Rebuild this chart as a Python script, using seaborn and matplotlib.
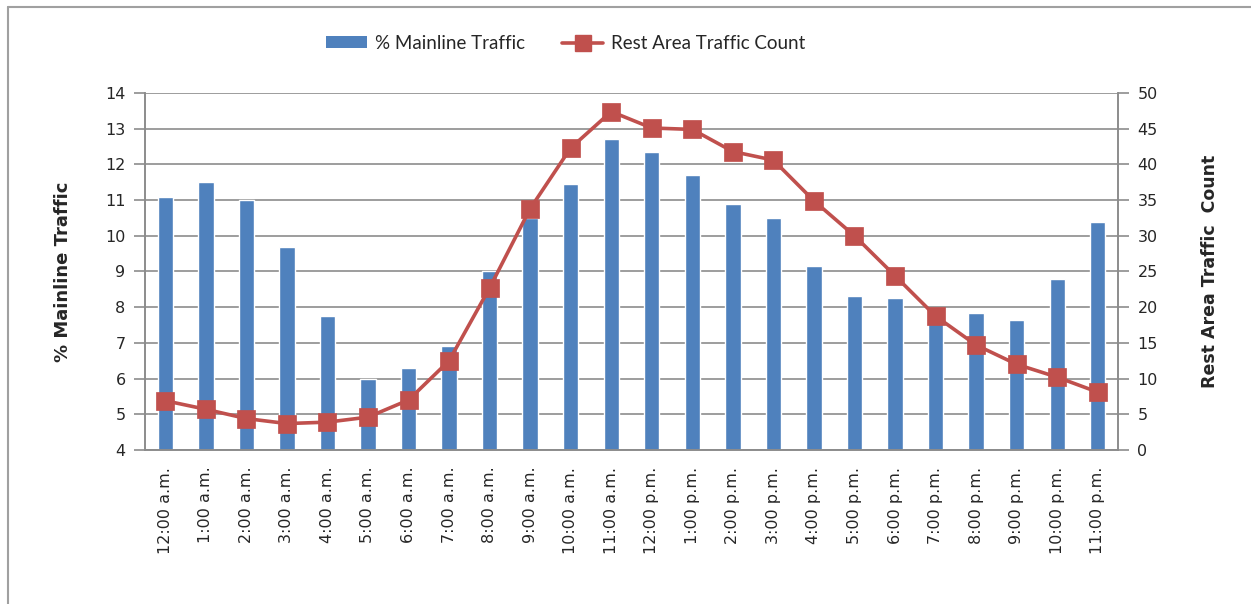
import numpy as np
import pandas as pd
import matplotlib
matplotlib.use("Agg")
import matplotlib.pyplot as plt
import seaborn as sns
from matplotlib.lines import Line2D
from matplotlib.patches import Patch

# --- data ---
hours = ["12:00 a.m.", "1:00 a.m.", "2:00 a.m.", "3:00 a.m.", "4:00 a.m.", "5:00 a.m.",
         "6:00 a.m.", "7:00 a.m.", "8:00 a.m.", "9:00 a.m.", "10:00 a.m.", "11:00 a.m.",
         "12:00 p.m.", "1:00 p.m.", "2:00 p.m.", "3:00 p.m.", "4:00 p.m.", "5:00 p.m.",
         "6:00 p.m.", "7:00 p.m.", "8:00 p.m.", "9:00 p.m.", "10:00 p.m.", "11:00 p.m."]
mainline_pct = [11.1, 11.5, 11.0, 9.7, 7.75, 6.0, 6.3, 6.9, 9.0, 10.5, 11.45, 12.7,
                12.35, 11.7, 10.9, 10.5, 9.15, 8.3, 8.25, 7.6, 7.85, 7.65, 8.8, 10.4]
rest_count = [6.9, 5.7, 4.4, 3.7, 3.9, 4.6, 7.0, 12.5, 22.7, 33.8, 42.3, 47.4,
              45.1, 44.9, 41.8, 40.6, 34.9, 30.0, 24.4, 18.75, 14.7, 12.0, 10.2, 8.1]

df = pd.DataFrame({"hour": hours, "pct": mainline_pct, "count": rest_count})

blue = "#4F81BD"
red = "#C0504D"
gray = "#8C8C8C"

sns.set_style("white")
plt.rcParams['font.family'] = ['DejaVu Sans']

fig = plt.figure(figsize=(12.51, 6.04), dpi=100)
ax = fig.add_axes([0.1159, 0.255, 0.7778, 0.591])

# bars: % mainline traffic
sns.barplot(data=df, x="hour", y="pct", order=hours, color=blue, width=0.38,
            saturation=1, ax=ax, zorder=2)
ax.set_ylim(4, 14)
ax.set_yticks(range(4, 15))
ax.set_xlim(-0.5, len(hours) - 0.5)
ax.yaxis.grid(True, color=gray, linewidth=1.2, zorder=0)
ax.set_axisbelow(True)

# line: rest area count on secondary axis
ax2 = ax.twinx()
sns.pointplot(data=df, x="hour", y="count", order=hours, color=red, markers="s",
              markersize=11, linewidth=2.6, ax=ax2)
ax2.set_ylim(0, 50)
ax2.set_yticks(range(0, 51, 5))
ax2.set_xlim(-0.5, len(hours) - 0.5)

for a in (ax, ax2):
    for s in a.spines.values():
        s.set_color(gray)
        s.set_linewidth(1.2)
    a.spines['top'].set_visible(False)
    a.set_xlabel("")

ax.tick_params(axis='y', direction='out', length=8, width=1.2, color=gray,
               labelsize=11.5, pad=6, left=True)
ax2.tick_params(axis='y', direction='out', length=8, width=1.2, color=gray,
                labelsize=11.5, pad=6, right=True)

ax.set_xticks(range(len(hours)))
ax.set_xticklabels(hours, rotation=90, fontsize=11.5)
ax.set_xticks(np.arange(-0.5, len(hours), 1), minor=True)
ax.tick_params(axis='x', which='major', length=0, pad=12)
ax.tick_params(axis='x', which='minor', direction='out', length=8, width=1.2, color=gray)
ax2.tick_params(axis='x', which='both', length=0, labelbottom=False)

ax.set_ylabel("% Mainline Traffic", fontsize=13, fontweight='bold',
              family=['Liberation Sans Narrow', 'DejaVu Sans'], labelpad=24)
ax2.set_ylabel("Rest Area Traffic  Count", fontsize=12.5, fontweight='bold',
               family=['Liberation Sans Narrow', 'DejaVu Sans'], labelpad=31)

handles = [Patch(facecolor=blue, edgecolor='none'),
           Line2D([], [], color=red, linewidth=2.6, marker='s', markersize=11)]
fig.legend(handles, ["% Mainline Traffic", "Rest Area Traffic Count"],
           loc='center', bbox_to_anchor=(0.452, 0.928), ncol=2, frameon=False,
           prop={'family': ['Lato', 'DejaVu Sans'], 'size': 13.5},
           handlelength=2.2, handleheight=0.6, columnspacing=2.0, handletextpad=0.4)

# chart frame (left and top edges visible)
fig.add_artist(Line2D([0.0065, 0.0065], [0.0, 0.988], color='#A0A0A0', linewidth=1.5,
                      transform=fig.transFigure))
fig.add_artist(Line2D([0.0065, 1.0], [0.988, 0.988], color='#A0A0A0', linewidth=1.5,
                      transform=fig.transFigure))

fig.savefig("out.png", dpi=100)
